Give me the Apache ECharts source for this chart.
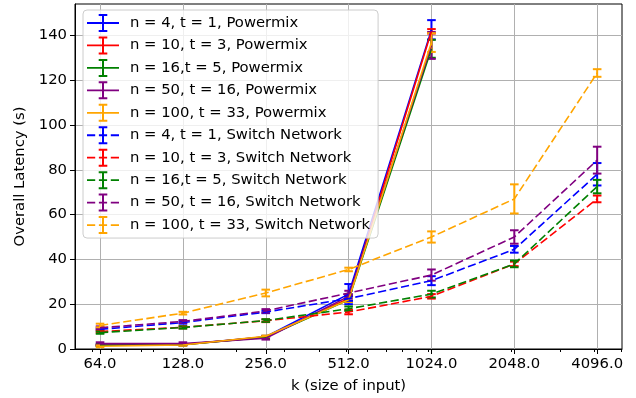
<!DOCTYPE html>
<html>
<head>
<meta charset="utf-8">
<script src="https://cdn.jsdelivr.net/npm/echarts@6/dist/echarts.min.js"></script>
<style>
  html, body { margin: 0; padding: 0; background: #fff; }
  #chart { width: 636px; height: 398px; }
</style>
</head>
<body>
<div id="chart"></div>
<script>
// input sizes (x axis, log scale)
const kValues = [64, 128, 256, 512, 1024, 2048, 4096];
const xTicks = [64, 128, 256, 512, 1024, 2048, 4096];
const xMinorTicks = [60, 70, 80, 90, 100, 200, 300, 400, 500, 600, 700, 800, 900, 1000, 2000, 3000, 4000, 5000];
const yTicks = [0, 20, 40, 60, 80, 100, 120, 140];

// Powermix (only up to k = 1024)
const pmN4 = [1.8, 2.0, 5.5, 24.5, 142.5];
const pmN4Err = [0.4, 0.3, 0.4, 4.5, 4.3];
const pmN10 = [1.7, 1.9, 5.4, 22.5, 141.8];
const pmN10Err = [0.3, 0.3, 0.3, 1.0, 1.0];
const pmN16 = [1.7, 1.9, 5.3, 22.0, 134.0];
const pmN16Err = [0.3, 0.3, 0.3, 1.0, 4.0];
const pmN50 = [2.4, 2.4, 4.8, 23.5, 135.5];
const pmN50Err = [0.6, 0.6, 0.6, 1.0, 6.0];
const pmN100 = [1.2, 1.8, 5.7, 22.0, 136.8];
const pmN100Err = [0.4, 0.3, 0.3, 1.0, 4.2];

// Switch Network
const snN4 = [8.8, 11.8, 16.5, 22.5, 30.5, 44.5, 78.0];
const snN4Err = [0.5, 0.5, 0.5, 1.0, 2.0, 1.5, 5.0];
const snN10 = [7.8, 9.7, 12.6, 16.5, 23.5, 38.0, 67.0];
const snN10Err = [0.5, 0.5, 0.6, 1.0, 1.0, 1.0, 1.5];
const snN16 = [7.3, 9.6, 12.7, 18.0, 24.5, 38.0, 72.5];
const snN16Err = [0.5, 0.5, 0.6, 1.0, 1.5, 1.5, 3.0];
const snN50 = [9.5, 12.3, 17.0, 25.0, 33.0, 50.0, 84.3];
const snN50Err = [0.6, 0.6, 0.8, 1.0, 2.5, 3.0, 6.0];
const snN100 = [10.5, 16.0, 25.0, 35.5, 50.0, 67.0, 123.2];
const snN100Err = [0.8, 0.6, 1.5, 0.8, 2.5, 6.5, 1.7];

const FONT = 'DejaVu Sans';
const FS = 14.8;

const lines = [
  ['n = 4, t = 1, Powermix', '#0000ff', false, pmN4, pmN4Err],
  ['n = 10, t = 3, Powermix', '#ff0000', false, pmN10, pmN10Err],
  ['n = 16,t = 5, Powermix', '#008000', false, pmN16, pmN16Err],
  ['n = 50, t = 16, Powermix', '#800080', false, pmN50, pmN50Err],
  ['n = 100, t = 33, Powermix', '#ffa500', false, pmN100, pmN100Err],
  ['n = 4, t = 1, Switch Network', '#0000ff', true, snN4, snN4Err],
  ['n = 10, t = 3, Switch Network', '#ff0000', true, snN10, snN10Err],
  ['n = 16,t = 5, Switch Network', '#008000', true, snN16, snN16Err],
  ['n = 50, t = 16, Switch Network', '#800080', true, snN50, snN50Err],
  ['n = 100, t = 33, Switch Network', '#ffa500', true, snN100, snN100Err],
];

// legend handles: line with an error bar in the middle (32 x 18)
const solidIcon = 'path://M0 8.1H32V9.9H0Z M15 1H17V17H15Z M11.7 0H20.3V2H11.7Z M11.7 16H20.3V18H11.7Z';
const dashedIcon = 'path://M0 8.1H8.2V9.9H0Z M11.9 8.1H20.1V9.9H11.9Z M23.8 8.1H32V9.9H23.8Z M15 1H17V17H15Z M11.7 0H20.3V2H11.7Z M11.7 16H20.3V18H11.7Z';

function errorBarRenderer(color) {
  return function (params, api) {
    const x = api.value(0);
    const y = api.value(1);
    const e = api.value(2);
    const top = api.coord([x, y + e]);
    const bot = api.coord([x, y - e]);
    const hw = 4.3;
    const style = { stroke: color, lineWidth: 2 };
    return {
      type: 'group',
      children: [
        { type: 'line', shape: { x1: top[0], y1: top[1], x2: bot[0], y2: bot[1] }, style: style },
        { type: 'line', shape: { x1: top[0] - hw, y1: top[1], x2: top[0] + hw, y2: top[1] }, style: style },
        { type: 'line', shape: { x1: bot[0] - hw, y1: bot[1], x2: bot[0] + hw, y2: bot[1] }, style: style },
      ],
    };
  };
}

const series = [];
lines.forEach(([name, color, dashed, values, errors]) => {
  series.push({
    name: name,
    type: 'line',
    data: values.map((v, i) => [kValues[i], v]),
    showSymbol: false,
    symbol: 'none',
    color: color,
    lineStyle: { color: color, width: 1.6, type: dashed ? [8.2, 3.5] : 'solid' },
    animation: false,
  });
  series.push({
    name: name,
    type: 'custom',
    data: values.map((v, i) => [kValues[i], v, errors[i]]),
    renderItem: errorBarRenderer(color),
    color: color,
    animation: false,
  });
});

const chart = echarts.init(document.getElementById('chart'));
chart.setOption({
  animation: false,
  textStyle: { fontFamily: FONT, color: '#000' },
  grid: {
    left: 75, right: 14, top: 4, bottom: 49,
    containLabel: false, outerBoundsMode: 'none',
    show: true, borderColor: '#000', borderWidth: 1,
  },
  legend: {
    orient: 'vertical',
    left: 83,
    top: 10,
    padding: [4, 8, 4, 4],
    itemWidth: 32,
    itemHeight: 18,
    itemGap: 4.45,
    backgroundColor: 'rgba(255,255,255,0.8)',
    borderColor: '#cccccc',
    borderWidth: 1,
    borderRadius: 4,
    itemStyle: { borderWidth: 0 },
    textStyle: { fontFamily: FONT, fontSize: FS, color: '#000', lineHeight: 18, padding: [0, 0, 0, 6] },
    data: lines.map(([name, , dashed]) => ({ name: name, icon: dashed ? dashedIcon : solidIcon })),
  },
  xAxis: [{
    type: 'log',
    logBase: 10,
    min: 51.9,
    max: 5042,
    name: 'k (size of input)',
    nameLocation: 'middle',
    nameGap: 30,
    nameTextStyle: { fontFamily: FONT, fontSize: FS, color: '#000' },
    axisLine: { onZero: false, lineStyle: { color: '#000', width: 1 } },
    axisTick: { customValues: xTicks, length: 5, lineStyle: { color: '#000' } },
    axisLabel: {
      customValues: xTicks, margin: 8, fontFamily: FONT, fontSize: FS, color: '#000',
      formatter: v => Number(v).toFixed(1),
    },
    splitLine: { show: true, lineStyle: { color: '#b0b0b0', width: 1 } },
  }, {
    type: 'log',
    logBase: 10,
    min: 51.9,
    max: 5042,
    position: 'bottom',
    axisLine: { show: false, onZero: false },
    axisTick: { customValues: xMinorTicks, length: 3, lineStyle: { color: '#000' } },
    axisLabel: { show: false },
    splitLine: { show: false },
  }],
  yAxis: {
    type: 'value',
    min: 0,
    max: 154,
    name: 'Overall Latency (s)',
    nameLocation: 'middle',
    nameGap: 46,
    nameTextStyle: { fontFamily: FONT, fontSize: FS, color: '#000' },
    axisLine: { show: true, lineStyle: { color: '#000', width: 1 } },
    axisTick: { show: true, customValues: yTicks, length: 5, lineStyle: { color: '#000' } },
    axisLabel: { customValues: yTicks, margin: 8, fontFamily: FONT, fontSize: FS, color: '#000' },
    splitLine: { show: true, lineStyle: { color: '#b0b0b0', width: 1 } },
  },
  series: series,
});
</script>
</body>
</html>
